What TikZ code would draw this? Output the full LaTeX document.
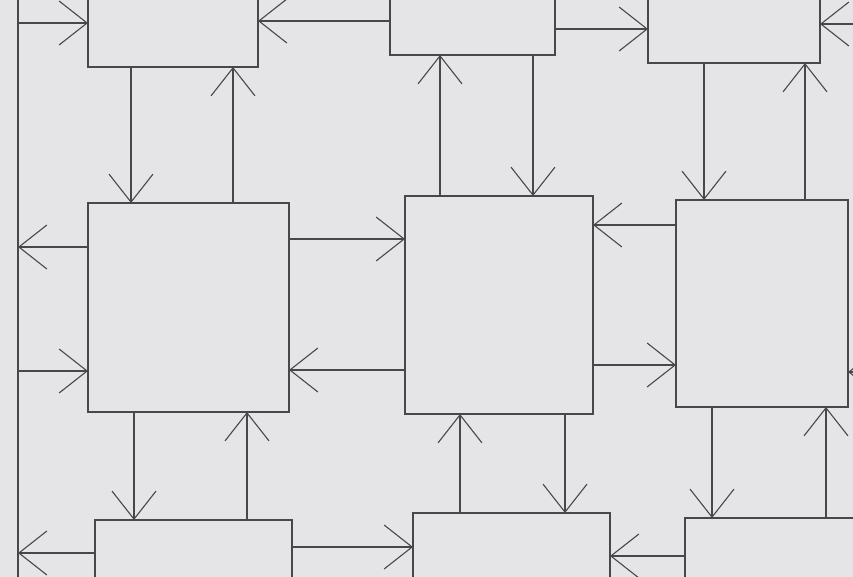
\documentclass[tikz,border=0pt]{standalone}
\usepackage{tikz}
\usetikzlibrary{arrows.meta, positioning}
\definecolor{paper}{RGB}{229,229,231}
\definecolor{pencil}{RGB}{72,72,76}

\begin{document}
\begin{tikzpicture}[x=1pt, y=-1pt,
    box/.style={draw=pencil, line width=1.2pt, inner sep=0pt, outer sep=0pt, rectangle},
    arr/.style={draw=pencil, line width=1.1pt, -{Straight Barb[length=28pt, width=44pt]}}]
    \useasboundingbox[fill=paper] (0,0) rectangle (853,577);
    \clip (0,0) rectangle (853,577);
    % Left margin line
    \coordinate (ltop) at (18,-10);
    \coordinate (lbot) at (18,590);
    \coordinate (rgt) at (875,0);
    \draw[pencil, line width=1.2pt] (ltop) -- (lbot);
    % Top row
    \node[box, minimum width=170pt, minimum height=87pt] (tl) at (173,23.5) {};
    \node[box, minimum width=165pt, minimum height=75pt] (tm) at (472.5,17.5) {};
    \node[box, minimum width=172pt, minimum height=83pt] (tr) at (734,21.5) {};
    % Middle row
    \node[box, minimum width=201pt, minimum height=209pt] (ml) at (188.5,307.5) {};
    \node[box, minimum width=188pt, minimum height=218pt] (mm) at (499,305) {};
    \node[box, minimum width=172pt, minimum height=207pt] (mr) at (762,303.5) {};
    % Bottom row
    \node[box, minimum width=197pt, minimum height=80pt] (bl) at (193.5,560) {};
    \node[box, minimum width=197pt, minimum height=87pt] (bm) at (511.5,556.5) {};
    \node[box, minimum width=185pt, minimum height=82pt] (br) at (777.5,559) {};
    % Horizontal arrows
    \draw[arr] (ltop |- 0,23) -- (tl.west |- 0,23);
    \draw[arr] (tm.west |- 0,21) -- (tl.east |- 0,21);
    \draw[arr] (tm.east |- 0,29) -- (tr.west |- 0,29);
    \draw[arr] (rgt |- 0,24) -- (tr.east |- 0,24);
    \draw[arr] (ml.west |- 0,247) -- (ltop |- 0,247);
    \draw[arr] (ltop |- 0,371) -- (ml.west |- 0,371);
    \draw[arr] (ml.east |- 0,239) -- (mm.west |- 0,239);
    \draw[arr] (mm.west |- 0,370) -- (ml.east |- 0,370);
    \draw[arr] (mr.west |- 0,225) -- (mm.east |- 0,225);
    \draw[arr] (mm.east |- 0,365) -- (mr.west |- 0,365);
    \draw[arr] (rgt |- 0,372) -- (mr.east |- 0,372);
    \draw[arr] (bl.west |- 0,553) -- (ltop |- 0,553);
    \draw[arr] (bl.east |- 0,547) -- (bm.west |- 0,547);
    \draw[arr] (br.west |- 0,556) -- (bm.east |- 0,556);
    % Vertical arrows
    \draw[arr] (tl.south -| 131,0) -- (ml.north -| 131,0);
    \draw[arr] (ml.north -| 233,0) -- (tl.south -| 233,0);
    \draw[arr] (mm.north -| 440,0) -- (tm.south -| 440,0);
    \draw[arr] (tm.south -| 533,0) -- (mm.north -| 533,0);
    \draw[arr] (tr.south -| 704,0) -- (mr.north -| 704,0);
    \draw[arr] (mr.north -| 805,0) -- (tr.south -| 805,0);
    \draw[arr] (ml.south -| 134,0) -- (bl.north -| 134,0);
    \draw[arr] (bl.north -| 247,0) -- (ml.south -| 247,0);
    \draw[arr] (bm.north -| 460,0) -- (mm.south -| 460,0);
    \draw[arr] (mm.south -| 565,0) -- (bm.north -| 565,0);
    \draw[arr] (mr.south -| 712,0) -- (br.north -| 712,0);
    \draw[arr] (br.north -| 826,0) -- (mr.south -| 826,0);
\end{tikzpicture}
\end{document}
